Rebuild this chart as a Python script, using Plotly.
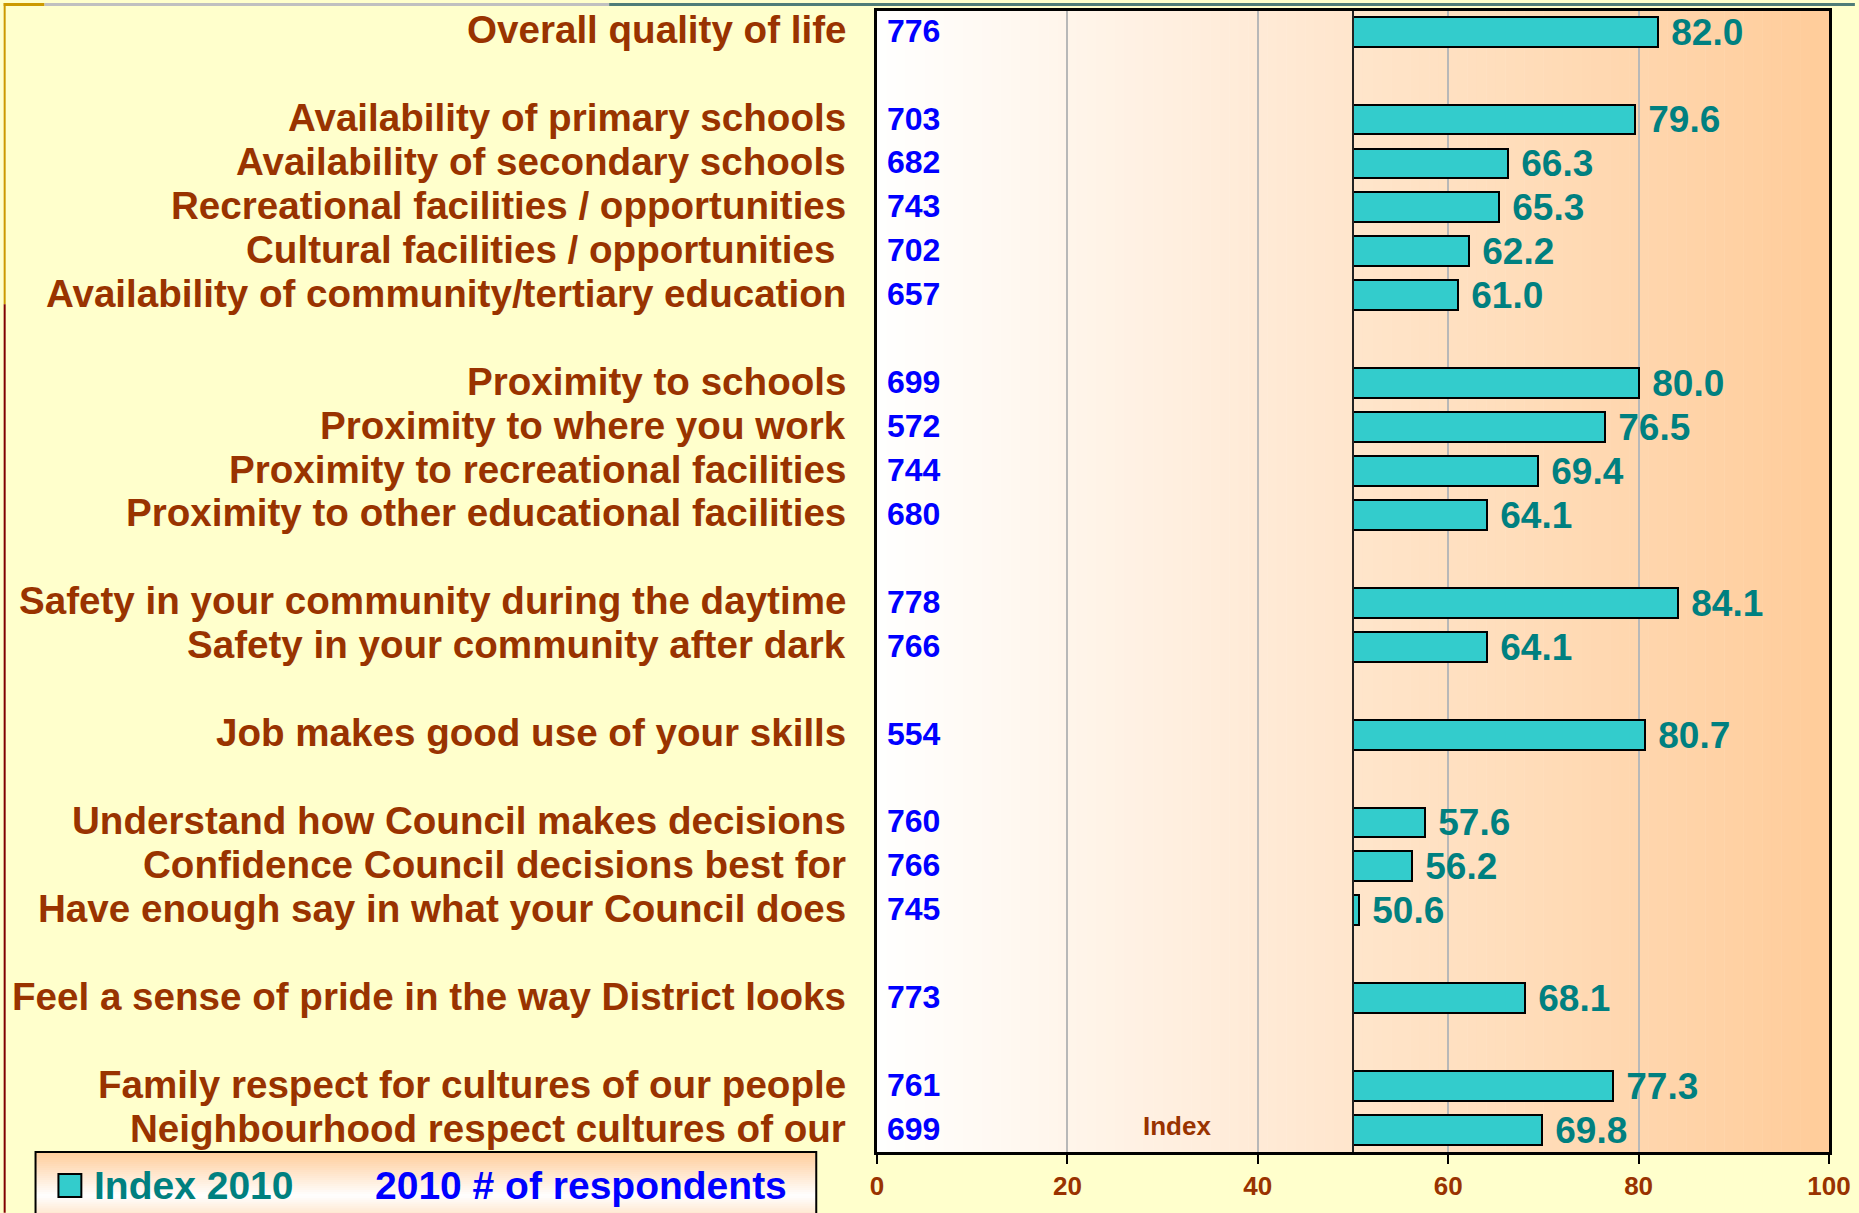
import plotly.graph_objects as go

# ---------------- data ----------------
labels = [
    "Overall quality of life",
    "Availability of primary schools",
    "Availability of secondary schools",
    "Recreational facilities / opportunities",
    "Cultural facilities / opportunities\u00a0",
    "Availability of community/tertiary education",
    "Proximity to schools",
    "Proximity to where you work",
    "Proximity to recreational facilities",
    "Proximity to other educational facilities",
    "Safety in your community during the daytime",
    "Safety in your community after dark",
    "Job makes good use of your skills",
    "Understand how Council makes decisions",
    "Confidence Council decisions best for",
    "Have enough say in what your Council does",
    "Feel a sense of pride in the way District looks",
    "Family respect for cultures of our people",
    "Neighbourhood respect cultures of our",
]
index_2010 = [82.0, 79.6, 66.3, 65.3, 62.2, 61.0,
              80.0, 76.5, 69.4, 64.1,
              84.1, 64.1,
              80.7,
              57.6, 56.2, 50.6,
              68.1,
              77.3, 69.8]
respondents = [776, 703, 682, 743, 702, 657,
               699, 572, 744, 680,
               778, 766,
               554,
               760, 766, 745,
               773,
               761, 699]
group_sizes = [1, 5, 4, 2, 1, 3, 1, 2]
x_ticks = [0, 20, 40, 60, 80, 100]
base_value = 50

# ---------------- styling ----------------
BROWN = "#993300"
TEAL = "#008080"
BLUE = "#0000FF"
BAR = "#33CCCC"
PAPER = "#FFFFCC"
FONT = "Arial, Liberation Sans, sans-serif"

W, H = 1859, 1213
ML, MR, MT, MB = 877, 26, 8, 61
PW = W - ML - MR
PH = H - MT - MB


def px_x(px):
    return (px - ML) / PW


def px_y(py):
    return (H - MB - py) / PH


# row positions with a blank slot between groups
positions = []
pos = 0
for g in group_sizes:
    for _ in range(g):
        positions.append(pos)
        pos += 1
    pos += 1
y_max = positions[-1] + 0.5

fig = go.Figure()

fig.add_trace(go.Bar(
    y=positions,
    x=[v - base_value for v in index_2010],
    base=base_value,
    orientation="h",
    width=0.68,
    marker=dict(color=BAR, line=dict(color="black", width=2)),
    text=["\u00a0%.1f" % v for v in index_2010],
    textposition="outside",
    constraintext="none",
    cliponaxis=False,
    textfont=dict(family=FONT, size=37, color=TEAL, weight="bold"),
    showlegend=False,
    hoverinfo="skip",
))

shapes = []
# horizontal gradient in the plot area
n = 100
for i in range(n):
    t = (i + 0.5) / n
    r, g, b = 255, round(255 - 51 * t), round(255 - 102 * t)
    shapes.append(dict(type="rect", xref="x", yref="paper",
                       x0=100 * i / n, x1=100 * (i + 1) / n + 0.05, y0=0, y1=1,
                       fillcolor=f"rgb({r},{g},{b})", line=dict(width=0),
                       layer="below"))
# axis crossing line at 50
shapes.append(dict(type="line", xref="x", yref="paper", x0=base_value, x1=base_value,
                   y0=0, y1=1, line=dict(color="#222222", width=2), layer="above"))

# legend box gradient
lx0, lx1, ly0, ly1 = 32, 816, 1152, 1216
m = 32
for i in range(m):
    a = ly0 + (ly1 - ly0) * i / m
    bb = ly0 + (ly1 - ly0) * (i + 1) / m + 0.5
    mid = (a + bb) / 2
    if mid < 1196:
        t = (1196 - mid) / (1196 - ly0)
    else:
        t = (mid - 1196) / (ly1 - 1196) * 0.5
    r, g, b = 255, round(255 - 51 * t), round(255 - 102 * t)
    shapes.append(dict(type="rect", xref="paper", yref="paper",
                       x0=px_x(lx0), x1=px_x(lx1), y0=px_y(a), y1=px_y(bb),
                       fillcolor=f"rgb({r},{g},{b})", line=dict(width=0)))
shapes.append(dict(type="rect", xref="paper", yref="paper",
                   x0=px_x(lx0), x1=px_x(lx1), y0=px_y(ly0), y1=px_y(ly1),
                   fillcolor="rgba(0,0,0,0)", line=dict(color="black", width=2)))
# legend swatch
shapes.append(dict(type="rect", xref="paper", yref="paper",
                   x0=px_x(55), x1=px_x(78), y0=px_y(1174), y1=px_y(1197),
                   fillcolor=BAR, line=dict(color="black", width=2)))

# slide decorations (top strip & left strip)
shapes.append(dict(type="rect", xref="paper", yref="paper", x0=px_x(0), x1=px_x(41),
                   y0=px_y(0), y1=px_y(3), fillcolor="#CC9900", line=dict(width=0)))
shapes.append(dict(type="rect", xref="paper", yref="paper", x0=px_x(41), x1=px_x(608),
                   y0=px_y(0), y1=px_y(3), fillcolor="#C0C0C0", line=dict(width=0)))
shapes.append(dict(type="rect", xref="paper", yref="paper", x0=px_x(608), x1=px_x(W),
                   y0=px_y(0), y1=px_y(3), fillcolor="#4F7C78", line=dict(width=0)))
shapes.append(dict(type="rect", xref="paper", yref="paper", x0=px_x(0), x1=px_x(2),
                   y0=px_y(0), y1=px_y(302), fillcolor="#CC9900", line=dict(width=0)))
shapes.append(dict(type="rect", xref="paper", yref="paper", x0=px_x(0), x1=px_x(2),
                   y0=px_y(302), y1=px_y(H), fillcolor="#800000", line=dict(width=0)))

annotations = []
for lab, p in zip(labels, positions):
    annotations.append(dict(text=lab, xref="paper", yref="y", x=0, y=p,
                            xanchor="right", yanchor="middle", xshift=-29, yshift=2,
                            showarrow=False,
                            font=dict(family=FONT, size=38.6, color=BROWN, weight="bold")))
for r_, p in zip(respondents, positions):
    annotations.append(dict(text=str(r_), xref="x", yref="y", x=0, y=p,
                            xanchor="left", yanchor="middle", xshift=8, yshift=1,
                            showarrow=False,
                            font=dict(family=FONT, size=32, color=BLUE, weight="bold")))
annotations.append(dict(text="Index", xref="x", yref="y", x=31.5, y=positions[-1],
                        xanchor="center", yanchor="middle", showarrow=False, yshift=4,
                        font=dict(family=FONT, size=26, color=BROWN, weight="bold")))
# legend texts
annotations.append(dict(text="Index 2010", xref="paper", yref="paper",
                        x=px_x(89), y=px_y(1186), xanchor="left", yanchor="middle",
                        showarrow=False,
                        font=dict(family=FONT, size=39, color=TEAL, weight="bold")))
annotations.append(dict(text="2010 # of respondents", xref="paper", yref="paper",
                        x=px_x(371), y=px_y(1186), xanchor="left", yanchor="middle",
                        showarrow=False,
                        font=dict(family=FONT, size=39, color=BLUE, weight="bold")))

fig.update_layout(
    width=W, height=H,
    margin=dict(l=ML, r=MR, t=MT, b=MB, pad=0),
    paper_bgcolor=PAPER,
    plot_bgcolor="white",
    shapes=shapes,
    annotations=annotations,
    bargap=0,
    xaxis=dict(range=[0, 100], tickvals=x_ticks, ticktext=[str(v) for v in x_ticks],
               showgrid=True, gridcolor="#B8B8B8", gridwidth=1.5,
               ticks="outside", ticklen=9, tickwidth=2, tickcolor="black",
               showline=True, linecolor="black", linewidth=2.5, mirror=True,
               zeroline=False,
               tickfont=dict(family=FONT, size=26, color=BROWN, weight="bold"),
               fixedrange=True),
    yaxis=dict(range=[y_max, -0.47], showticklabels=False, showgrid=False,
               zeroline=False, ticks="",
               showline=True, linecolor="black", linewidth=2.5, mirror=True,
               fixedrange=True),
)

fig.write_html("out.html", config={"displayModeBar": False},
               post_script="document.body.style.margin='0';document.body.style.overflow='hidden';")
